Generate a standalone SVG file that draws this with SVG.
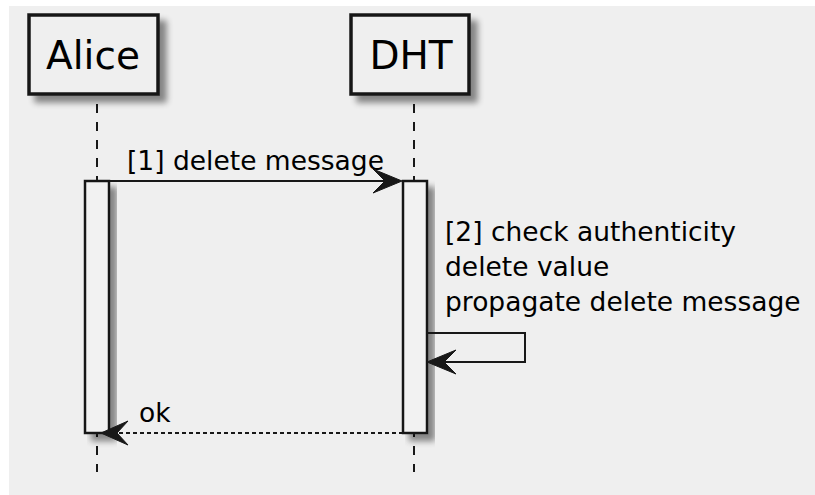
<svg xmlns="http://www.w3.org/2000/svg" width="815" height="495" viewBox="0 0 815 495">
  <defs>
    <filter id="shadow" x="-20%" y="-20%" width="150%" height="150%">
      <feGaussianBlur in="SourceAlpha" stdDeviation="3"/>
      <feOffset dx="7" dy="7" result="b"/>
      <feComponentTransfer><feFuncA type="linear" slope="0.45"/></feComponentTransfer>
      <feMerge><feMergeNode/><feMergeNode in="SourceGraphic"/></feMerge>
    </filter>
    <style>
      .bg { fill: #efefef; }
      .box { fill: #efefef; stroke: #181818; stroke-width: 3.5; }
      .act { fill: #f2f2f2; stroke: #181818; stroke-width: 2.5; }
      .life { stroke: #181818; stroke-width: 2; stroke-dasharray: 9 9; fill: none; }
      .msg { stroke: #181818; stroke-width: 2; fill: none; }
      .ret { stroke: #181818; stroke-width: 2; stroke-dasharray: 4 3; fill: none; }
      .head { fill: #181818; stroke: #181818; stroke-width: 1; }
      .name { font-family: "DejaVu Sans", sans-serif; font-size: 39px; fill: #000; text-anchor: middle; }
      .lbl { font-family: "DejaVu Sans", sans-serif; font-size: 26.5px; fill: #000; }
    </style>
  </defs>

  <rect class="bg" x="9" y="6" width="806" height="489"/>

  <!-- lifelines -->
  <g id="lifelines">
    <line class="life" x1="97" y1="104" x2="97" y2="472"/>
    <line class="life" x1="414" y1="104" x2="414" y2="472"/>
  </g>

  <!-- participants -->
  <g id="alice">
    <rect class="box" x="29" y="15" width="129" height="79" filter="url(#shadow)"/>
    <text class="name" x="93" y="69">Alice</text>
  </g>
  <g id="dht">
    <rect class="box" x="351" y="15" width="118" height="79" filter="url(#shadow)"/>
    <text class="name" x="411" y="69">DHT</text>
  </g>

  <!-- activation bars -->
  <g id="alice-activation">
    <rect class="act" x="85" y="181" width="24" height="252" filter="url(#shadow)"/>
  </g>
  <g id="dht-activation">
    <rect class="act" x="403" y="181" width="24" height="252" filter="url(#shadow)"/>
  </g>

  <!-- messages -->
  <g id="connectors">
    <line class="msg" x1="109" y1="181" x2="398" y2="181"/>
    <polygon class="head" points="402,181 373,169 385,181 373,193"/>

    <polyline class="msg" points="427,333 525,333 525,362 431,362"/>
    <polygon class="head" points="427,362 456,350 444,362 456,374"/>

    <line class="ret" x1="403" y1="433" x2="106" y2="433"/>
    <polygon class="head" points="101,433 128,421 117,433 128,445"/>
  </g>

  <g id="labels">
    <text class="lbl" x="127" y="170">[1] delete message</text>
    <text class="lbl" x="445" y="241">[2] check authenticity</text>
    <text class="lbl" x="445" y="276">delete value</text>
    <text class="lbl" x="445" y="311">propagate delete message</text>
    <text class="lbl" x="139" y="422">ok</text>
  </g>
</svg>
